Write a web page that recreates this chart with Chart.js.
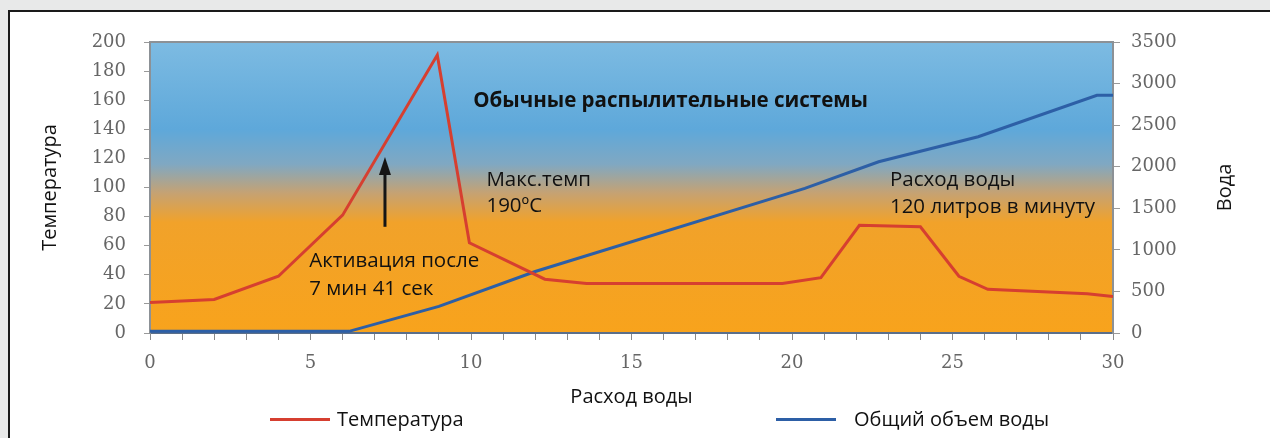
<!DOCTYPE html>
<html>
<head>
<meta charset="utf-8">
<title>Обычные распылительные системы</title>
<script src="https://cdn.jsdelivr.net/npm/chart.js@4.4.1/dist/chart.umd.min.js"></script>
<style>
  html, body { margin: 0; padding: 0; background: #e8e9e9; }
  #wrap { position: relative; width: 1270px; height: 438px; overflow: hidden; }
  #frame {
    position: absolute; left: 8px; top: 10px; width: 1300px; height: 460px;
    background: #fff; border-left: 2px solid #1a1a1a; border-top: 2px solid #1a1a1a;
  }
  #chart { position: absolute; left: 0; top: 0; }
  .leg { position: absolute; top: 405px; font: 20px 'Open Sans', sans-serif; color: #111; white-space: nowrap; }
  .leg i { display: inline-block; width: 60px; height: 3px; vertical-align: middle; position: relative; top: -1px; }
</style>
</head>
<body>
<div id="wrap">
  <div id="frame"></div>
  <canvas id="chart" width="1270" height="438"></canvas>
  <div class="leg" id="leg0" style="left:270px"><i></i><span style="margin-left:7px"></span></div>
  <div class="leg" id="leg1" style="left:776px"><i></i><span style="margin-left:18px"></span></div>
</div>
<script>
// time in minutes / temperature in °C
const tempTimes  = [0, 2, 4, 6, 8.95, 9.95, 12.3, 13.6, 19.7, 20.9, 22.1, 24.0, 25.2, 26.1, 29.2, 30];
const tempValues = [21, 23, 39, 81, 191, 62, 37, 34, 34, 38, 74, 73, 39, 30, 27, 25];

// time in minutes / total water volume
const waterTimes  = [0, 6.2, 9, 12, 20.4, 22.7, 25.8, 29.5, 30];
const waterValues = [20, 20, 320, 740, 1740, 2060, 2360, 2860, 2860];

const seriesNames  = ['Температура', 'Общий объем воды'];
const seriesColors = ['#d63f30', '#2d5fa6'];

const xTitle = 'Расход воды';
const yLeftTitle = 'Температура';
const yRightTitle = 'Вода';

// text notes on the plot: [text, minute, °C, bold]
const notes = [
  ['Обычные распылительные системы', 10.07, 159.5, true],
  ['Макс.темп', 10.48, 105, false],
  ['190ºC', 10.48, 87, false],
  ['Активация после', 4.96, 49.5, false],
  ['7 мин 41 сек', 4.96, 30, false],
  ['Расход воды', 23.05, 105, false],
  ['120 литров в минуту', 23.05, 86.6, false]
];
// activation arrow: minute, from °C, to °C
const arrow = { x: 7.32, from: 73, to: 121 };

const FONT = "'Open Sans', sans-serif";
const TICK_FONT = { family: "'DejaVu Serif', serif", size: 18 };

// legend (HTML)
seriesNames.forEach((name, i) => {
  const el = document.getElementById('leg' + i);
  el.querySelector('i').style.background = seriesColors[i];
  el.querySelector('span').textContent = name;
});

const plotBackground = {
  id: 'plotBackground',
  beforeDraw(chart) {
    const { ctx, chartArea: a } = chart;
    const g = ctx.createLinearGradient(0, a.top, 0, a.bottom);
    g.addColorStop(0, '#7dbbe2');
    g.addColorStop(0.30, '#5ea8da');
    g.addColorStop(0.42, '#80a8c2');
    g.addColorStop(0.52, '#c6a272');
    g.addColorStop(0.62, '#f1a22a');
    g.addColorStop(1, '#f8a31c');
    ctx.save();
    ctx.fillStyle = g;
    ctx.fillRect(a.left, a.top, a.right - a.left, a.bottom - a.top);
    ctx.strokeStyle = '#8c9196';
    ctx.lineWidth = 2;
    ctx.beginPath();
    ctx.moveTo(a.left, a.top);
    ctx.lineTo(a.right, a.top);
    ctx.stroke();
    ctx.restore();
  }
};

const plotNotes = {
  id: 'plotNotes',
  afterDatasetsDraw(chart) {
    const { ctx, scales: { x, y } } = chart;
    ctx.save();
    ctx.fillStyle = '#111';
    ctx.textBaseline = 'middle';
    ctx.textAlign = 'left';
    notes.forEach(([text, t, v, bold]) => {
      ctx.font = (bold ? 'bold 20.5px ' : '20.5px ') + FONT;
      ctx.fillText(text, x.getPixelForValue(t), y.getPixelForValue(v));
    });

    // arrow
    const ax = x.getPixelForValue(arrow.x);
    const y0 = y.getPixelForValue(arrow.from);
    const y1 = y.getPixelForValue(arrow.to);
    ctx.strokeStyle = '#151515';
    ctx.fillStyle = '#151515';
    ctx.lineWidth = 3;
    ctx.beginPath();
    ctx.moveTo(ax, y0);
    ctx.lineTo(ax, y1 + 14);
    ctx.stroke();
    ctx.beginPath();
    ctx.moveTo(ax, y1);
    ctx.lineTo(ax - 6, y1 + 18);
    ctx.lineTo(ax + 6, y1 + 18);
    ctx.closePath();
    ctx.fill();

    // right axis title, reading bottom to top
    const r = chart.scales.y1;
    ctx.translate(1225, (r.top + r.bottom) / 2);
    ctx.rotate(-Math.PI / 2);
    ctx.textAlign = 'center';
    ctx.font = '20px ' + FONT;
    ctx.fillText(yRightTitle, 0, 0);
    ctx.restore();
  }
};

new Chart(document.getElementById('chart'), {
  type: 'line',
  data: {
    datasets: [
      {
        label: seriesNames[0],
        data: tempTimes.map((t, i) => ({ x: t, y: tempValues[i] })),
        borderColor: seriesColors[0],
        borderWidth: 3,
        pointRadius: 0,
        tension: 0,
        yAxisID: 'y'
      },
      {
        label: seriesNames[1],
        data: waterTimes.map((t, i) => ({ x: t, y: waterValues[i] })),
        borderColor: seriesColors[1],
        borderWidth: 3,
        pointRadius: 0,
        tension: 0,
        yAxisID: 'y1'
      }
    ]
  },
  options: {
    responsive: false,
    animation: false,
    layout: { padding: { left: 0, right: 0, top: 42, bottom: 29 } },
    plugins: {
      legend: { display: false },
      tooltip: { enabled: false }
    },
    scales: {
      x: {
        type: 'linear',
        min: 0,
        max: 30,
        afterFit: s => { s.height = 76; },
        ticks: {
          stepSize: 1,
          autoSkip: false,
          maxRotation: 0,
          padding: 13,
          color: '#666',
          font: TICK_FONT,
          callback: v => (v % 5 === 0 ? String(v) : '')
        },
        grid: { drawOnChartArea: false, tickLength: 7, color: '#8a8a8a' },
        border: { color: '#5b6f8a', width: 2 },
        title: { display: true, text: xTitle, color: '#111', font: { family: FONT, size: 20 }, padding: { top: 0, bottom: 0 } }
      },
      y: {
        position: 'left',
        min: 0,
        max: 200,
        afterFit: s => { s.width = 150; },
        ticks: { stepSize: 20, padding: 18, color: '#666', font: TICK_FONT, callback: v => String(v) },
        grid: { drawOnChartArea: false, tickLength: 6, color: '#9a9a9a' },
        border: { color: '#8c9196', width: 2 },
        title: { display: true, text: yLeftTitle, color: '#111', font: { family: FONT, size: 20 }, padding: { top: 38, bottom: 0 } }
      },
      y1: {
        position: 'right',
        min: 0,
        max: 3500,
        afterFit: s => { s.width = 157; },
        ticks: { stepSize: 500, padding: 11, color: '#666', font: TICK_FONT, callback: v => String(v) },
        grid: { drawOnChartArea: false, tickLength: 7, color: '#9a9a9a' },
        border: { color: '#8c9196', width: 2 }
      }
    }
  },
  plugins: [plotBackground, plotNotes]
});
</script>
</body>
</html>
